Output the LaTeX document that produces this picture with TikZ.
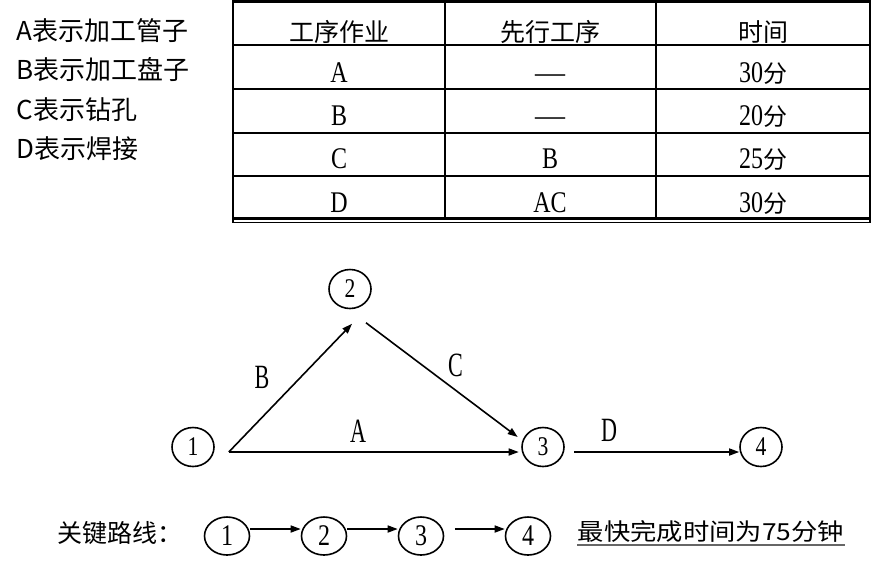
\documentclass[tikz,border=0pt]{standalone}
\usepackage{fontspec}
\setmainfont{Liberation Serif}
\newfontfamily\cjk{Noto Sans CJK SC}
\newfontfamily\cjkwide[FakeStretch=1.12]{Noto Sans CJK SC}
\newfontfamily\narrow[FakeStretch=0.8]{Liberation Serif}
\newfontfamily\slim[FakeStretch=0.65]{Liberation Serif}
\usepackage{tikz}
\usetikzlibrary{arrows.meta,shapes.geometric}

\begin{document}
\begin{tikzpicture}[x=1pt, y=-1pt, line width=1.6pt,
  state/.style={draw, ellipse, minimum width=42pt, minimum height=39pt, inner sep=0pt, font=\narrow\fontsize{27}{27}\selectfont},
  bstate/.style={draw, ellipse, minimum width=45pt, minimum height=38pt, inner sep=0pt, font=\narrow\fontsize{30}{30}\selectfont},
  arr/.style={-{Triangle[length=10pt,width=7pt]}},
  lbl/.style={font=\slim\fontsize{34}{34}\selectfont},
  cell/.style={anchor=base, inner sep=0pt, font=\narrow\fontsize{30}{30}\selectfont},
  head/.style={anchor=base, inner sep=0pt, font=\cjk\fontsize{25}{25}\selectfont},
  note/.style={anchor=base west, inner sep=0pt, font=\cjk\fontsize{26}{26}\selectfont}]
\useasboundingbox (0,0) rectangle (872,566);

% legend
\foreach \t [count=\i] in {A表示加工管子, B表示加工盘子, C表示钻孔, D表示焊接}
  \node[note] (note\i) at (16,{40+39.5*(\i-1)}) {\t};

% table
\draw[line width=3pt] (233,1.5) -- (870,1.5);
\draw[line width=3pt] (233,218.5) -- (870,218.5);
\draw[line width=1.2pt] (233,222.5) -- (870,222.5);
\draw[line width=2pt] (233,0) -- (233,223) (870,0) -- (870,223);
\foreach \y in {45,89,133,176}
  \draw (233,\y) -- (870,\y);
\draw (445,1.5) -- (445,218.5) (656,1.5) -- (656,218.5);
\node[head] (h1) at (339,41) {工序作业};
\node[head] (h2) at (550,41) {先行工序};
\node[head] (h3) at (763,41) {时间};
\foreach \r/\a/\p/\t [count=\i] in {82/A/{\rmfamily —}/30, 125/B/{\rmfamily —}/20, 168/C/B/25, 212/D/AC/30}{
  \node[cell] (a\i) at (339,\r) {\a};
  \node[cell] (p\i) at (550,\r) {\p};
  \node[cell] (t\i) at (763,\r) {\t{\cjk\fontsize{24}{24}\selectfont 分}};
}

% network
\node[state] (n1) at (193,447) {1};
\node[state] (n2) at (350,289) {2};
\node[state] (n3) at (543,447) {3};
\node[state] (n4) at (761,447) {4};
\draw[arr] ([shift={(14,5)}]n1.east) -- ([shift={(2,14.5)}]n2.south);
\draw[arr] ([shift={(14,5)}]n1.east) -- ([shift={(-2.5,5)}]n3.west);
\draw[arr] ([shift={(16,13.5)}]n2.south) -- ([shift={(-3.5,-10)}]n3.west);
\draw[arr] ([shift={(9.5,5)}]n3.east) -- ([shift={(0,5)}]n4.west);
\node[lbl] (lb) at (262,377.5) {B};
\node[lbl] (la) at (358,431) {A};
\node[lbl] (lc) at (455.5,365) {C};
\node[lbl] (ld) at (609,430) {D};

% critical path
\node[anchor=base west, inner sep=0pt, font=\cjk\fontsize{25}{25}\selectfont] (kp) at (57,542) {关键路线：};
\node[bstate] (b1) at (227,536) {1};
\node[bstate] (b2) at (324,536) {2};
\node[bstate] (b3) at (421,536) {3};
\node[bstate] (b4) at (528,536) {4};
\draw[arr] ([shift={(0,-7)}]b1.east) -- ([shift={(0,-7)}]b2.west);
\draw[arr] ([shift={(0,-7)}]b2.east) -- ([shift={(0,-7)}]b3.west);
\draw[arr] ([shift={(10.5,-7)}]b3.east) -- ([shift={(0,-7)}]b4.west);
\node[anchor=base west, inner sep=0pt, font=\cjkwide\fontsize{23.5}{23.5}\selectfont] (res) at (577,540) {最快完成时间为75分钟};
\draw[line width=1.5pt, black!60] ([shift={(0,5)}]res.base west) -- ([shift={(0,5)}]res.base east);
\end{tikzpicture}
\end{document}
